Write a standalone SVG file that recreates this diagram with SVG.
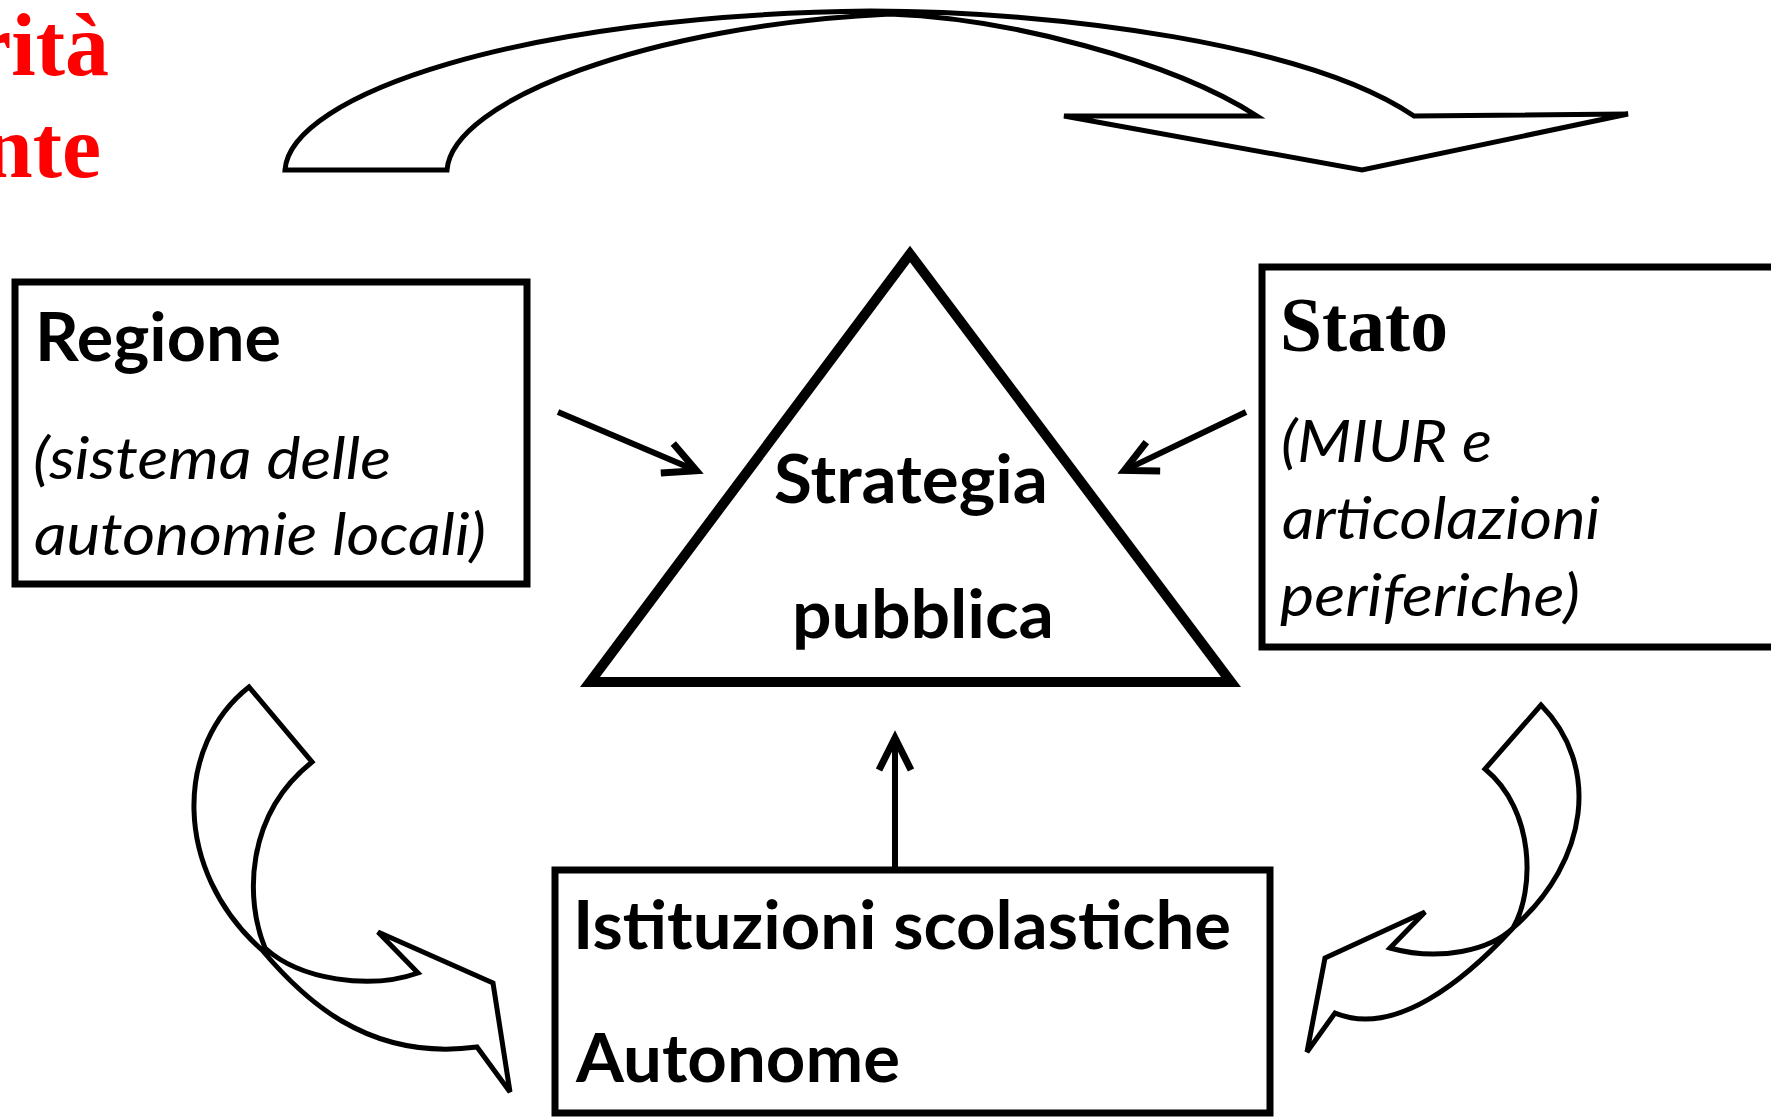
<svg xmlns="http://www.w3.org/2000/svg" width="1771" height="1117" viewBox="0 0 1771 1117">
  <style>
    .shape { fill: #fff; stroke: #000; stroke-width: 5; stroke-linejoin: miter; }
    .box { fill: #fff; stroke: #000; stroke-width: 7; }
    .tri { fill: #fff; stroke: #000; stroke-width: 10; stroke-linejoin: miter; stroke-miterlimit: 10; }
    .conn { fill: none; stroke: #000; stroke-width: 6; }
    .bold { font-family: Lato, "Open Sans", sans-serif; font-weight: 700; font-size: 67px; fill: #000; }
    .ital { font-family: Lato, "Open Sans", sans-serif; font-style: italic; font-size: 59px; fill: #000; }
    .serif { font-family: "Liberation Serif", "Times New Roman", serif; font-weight: 700; }
  </style>
  <defs>
    <marker id="ah" markerUnits="userSpaceOnUse" orient="auto" markerWidth="80" markerHeight="80" refX="0" refY="0" viewBox="-40 -40 80 80" overflow="visible">
      <path d="M-32,-16 L0,0 L-32,16" fill="none" stroke="#000" stroke-width="7" stroke-linejoin="miter"/>
    </marker>
  </defs>
  <rect width="1771" height="1117" fill="#fff"/>

  <g id="title-fragment">
    <text class="serif" x="109" y="75" font-size="88" fill="#ff0000" text-anchor="end">rità</text>
    <text class="serif" x="101" y="177" font-size="88" fill="#ff0000" text-anchor="end">nte</text>
  </g>

  <g id="curved-arrows">
    <path id="arrow-top" class="shape" d="M285,170 C290,95 520,15 870,11 C1060,11 1310,45 1414,116 L1628,114 L1362,170 L1064,116 L1257,116 C1170,60 1005,18 890,14 C650,25 452,100 447,170 Z"/>
    <path id="arrow-left" class="shape" d="M249,687 C175,745 172,870 262,950 C300,995 365,1062 477,1047 L510,1092 L493,983 L378,932 L418,973 C370,990 300,980 265,948 C245,900 245,815 312,762 Z"/>
    <path id="arrow-right" class="shape" d="M1541,705 C1600,765 1590,860 1513,928 C1465,980 1395,1038 1335,1013 L1307,1052 L1325,958 L1425,912 L1390,948 C1440,962 1490,950 1513,928 C1535,890 1535,810 1485,769 Z"/>
  </g>

  <g id="connectors">
    <line class="conn" x1="558" y1="412" x2="696.5" y2="470.7" marker-end="url(#ah)"/>
    <line class="conn" x1="1246" y1="412" x2="1124.4" y2="470.4" marker-end="url(#ah)"/>
    <line class="conn" x1="895" y1="867" x2="895" y2="738" marker-end="url(#ah)"/>
  </g>

  <g id="node-regione">
    <rect class="box" x="15" y="282" width="512" height="302"/>
    <text class="bold" x="35" y="361" textLength="246" lengthAdjust="spacingAndGlyphs">Regione</text>
    <text class="ital" x="33" y="479" textLength="358" lengthAdjust="spacingAndGlyphs">(sistema delle</text>
    <text class="ital" x="34" y="555" textLength="452" lengthAdjust="spacingAndGlyphs">autonomie locali)</text>
  </g>

  <g id="node-stato">
    <rect class="box" x="1262" y="267" width="600" height="380"/>
    <text class="serif" x="1280" y="351" font-size="79" fill="#000" textLength="168" lengthAdjust="spacingAndGlyphs">Stato</text>
    <text class="ital" x="1281" y="462" textLength="211" lengthAdjust="spacingAndGlyphs">(MIUR e</text>
    <text class="ital" x="1282" y="539" textLength="318" lengthAdjust="spacingAndGlyphs">articolazioni</text>
    <text class="ital" x="1280" y="616" textLength="300" lengthAdjust="spacingAndGlyphs">periferiche)</text>
  </g>

  <g id="node-strategia">
    <polygon class="tri" points="910,254 590,682 1231,682"/>
    <text class="bold" x="774" y="503" textLength="274" lengthAdjust="spacingAndGlyphs">Strategia</text>
    <text class="bold" x="792" y="638" textLength="262" lengthAdjust="spacingAndGlyphs">pubblica</text>
  </g>

  <g id="node-istituzioni">
    <rect class="box" x="555" y="870" width="715" height="243"/>
    <text class="bold" x="573" y="949" textLength="658" lengthAdjust="spacingAndGlyphs">Istituzioni scolastiche</text>
    <text class="bold" x="576" y="1082" textLength="324" lengthAdjust="spacingAndGlyphs">Autonome</text>
  </g>
</svg>
